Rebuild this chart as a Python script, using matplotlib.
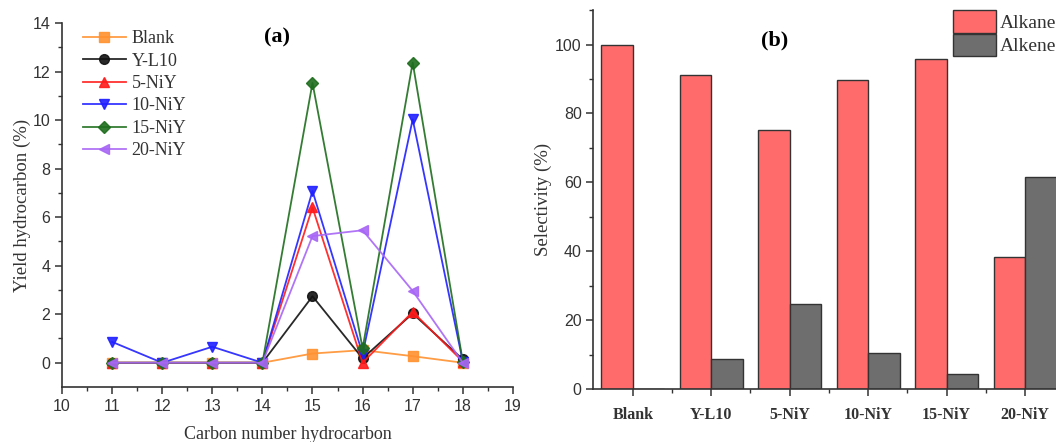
import matplotlib
matplotlib.use("Agg")
import matplotlib.pyplot as plt
from matplotlib.ticker import MultipleLocator, FixedLocator

# panel (a): yield per carbon number
carbon = [11, 12, 13, 14, 15, 16, 17, 18]
blank = [0, 0, 0, 0, 0.38, 0.52, 0.27, 0]
yl10 = [0, 0, 0, 0, 2.74, 0.18, 2.03, 0.14]
ni5 = [0, 0, 0, 0, 6.4, 0.0, 2.1, 0.05]
ni10 = [0.86, 0, 0.66, 0, 7.08, 0.36, 10.03, 0.05]
ni15 = [0, 0, 0, 0, 11.53, 0.59, 12.37, 0.05]
ni20 = [0, 0, 0, 0, 5.22, 5.46, 2.96, 0]

# panel (b): selectivity
catalysts = ["Blank", "Y-L10", "5-NiY", "10-NiY", "15-NiY", "20-NiY"]
alkane = [100, 91.1, 75.2, 89.6, 95.7, 38.4]
alkene = [0, 8.7, 24.6, 10.3, 4.2, 61.6]

serif = "Liberation Serif"
sans = "Liberation Sans"

fig = plt.figure(figsize=(10.56, 4.42), dpi=100)

# ---- (a) ----
ax1 = fig.add_axes([0.0587, 0.1244, 0.427, 0.8235])
series = [
    ("Blank", blank, "#FF9130", "s"),
    ("Y-L10", yl10, "#111111", "o"),
    ("5-NiY", ni5, "#FF1A1A", "^"),
    ("10-NiY", ni10, "#2020FF", "v"),
    ("15-NiY", ni15, "#1E6E1E", "D"),
    ("20-NiY", ni20, "#A866F5", "<"),
]
for name, vals, col, mk in series:
    ax1.plot(carbon, vals, color=col, marker=mk, markersize=7 if mk != "D" else 6,
             linewidth=1.3, label=name, alpha=0.9)

ax1.set_xlim(10, 19)
ax1.set_ylim(-1, 14)
ax1.xaxis.set_major_locator(MultipleLocator(1))
ax1.xaxis.set_minor_locator(MultipleLocator(0.5))
ax1.yaxis.set_major_locator(FixedLocator([0, 2, 4, 6, 8, 10, 12, 14]))
ax1.yaxis.set_minor_locator(FixedLocator([1, 3, 5, 7, 9, 11, 13]))
for s in ["top", "right"]:
    ax1.spines[s].set_visible(False)
for s in ["left", "bottom"]:
    ax1.spines[s].set_linewidth(1.2)
    ax1.spines[s].set_color("#333333")
ax1.tick_params(which="major", direction="out", length=5, width=1.1, colors="#333333",
                labelsize=11.5)
ax1.tick_params(which="minor", direction="out", length=3, width=1.0, colors="#333333")
for lbl in ax1.get_xticklabels() + ax1.get_yticklabels():
    lbl.set_fontfamily(sans)
ax1.set_xlabel("Carbon number hydrocarbon", family=serif, fontsize=13, labelpad=9,
               color="#333333")
ax1.set_ylabel("Yield hydrocarbon (%)", family=serif, fontsize=13.5, labelpad=1,
               color="#333333")
ax1.text(14.3, 13.4, "(a)", family=serif, fontsize=16, fontweight="bold",
         ha="center", va="center")
leg1 = ax1.legend(loc="upper left", bbox_to_anchor=(0.01, 1.025), frameon=False,
                  prop={"family": serif, "size": 13}, handlelength=2.4,
                  labelspacing=0.3, handletextpad=0.3)
for t in leg1.get_texts():
    t.set_color("#333333")

# ---- (b) ----
ax2 = fig.add_axes([0.562, 0.12, 0.446, 0.857])
x = list(range(len(catalysts)))
w = 0.4
ax2.bar([i - w / 2 for i in x], alkane, width=w, color="#FF6B6B", edgecolor="#333333",
        linewidth=1.0, label="Alkane")
ax2.bar([i + w / 2 for i in x], alkene, width=w, color="#6E6E6E", edgecolor="#333333",
        linewidth=1.0, label="Alkene")
ax2.set_xlim(-0.5, 5.5)
ax2.set_ylim(0, 110)
ax2.set_xticks(x)
ax2.set_xticklabels(catalysts, family=serif, fontweight="bold", fontsize=11.5)
ax2.xaxis.set_minor_locator(FixedLocator([0.5, 1.5, 2.5, 3.5, 4.5]))
ax2.yaxis.set_major_locator(MultipleLocator(20))
ax2.yaxis.set_minor_locator(MultipleLocator(10))
for s in ["top", "right"]:
    ax2.spines[s].set_visible(False)
for s in ["left", "bottom"]:
    ax2.spines[s].set_linewidth(1.2)
    ax2.spines[s].set_color("#333333")
ax2.tick_params(which="major", direction="out", length=5, width=1.1, colors="#333333",
                labelsize=11.5)
ax2.tick_params(axis="x", which="major", labelsize=11.5, pad=8)
ax2.tick_params(which="minor", direction="out", length=3, width=1.0, colors="#333333")
for lbl in ax2.get_yticklabels():
    lbl.set_fontfamily(sans)
ax2.set_ylabel("Selectivity (%)", family=serif, fontsize=13.5, labelpad=2, color="#333333")
ax2.text(0.385, 0.92, "(b)", transform=ax2.transAxes, family=serif, fontsize=16,
         fontweight="bold", ha="center", va="center")
leg2 = ax2.legend(loc="upper left", bbox_to_anchor=(0.888, 1.012),
                  bbox_transform=fig.transFigure, frameon=False,
                  prop={"family": serif, "size": 14}, handlelength=2.2, handleheight=1.4,
                  labelspacing=0.05, handletextpad=0.2, borderpad=0.3)
for t in leg2.get_texts():
    t.set_color("#333333")

fig.savefig("out.png", dpi=100)
